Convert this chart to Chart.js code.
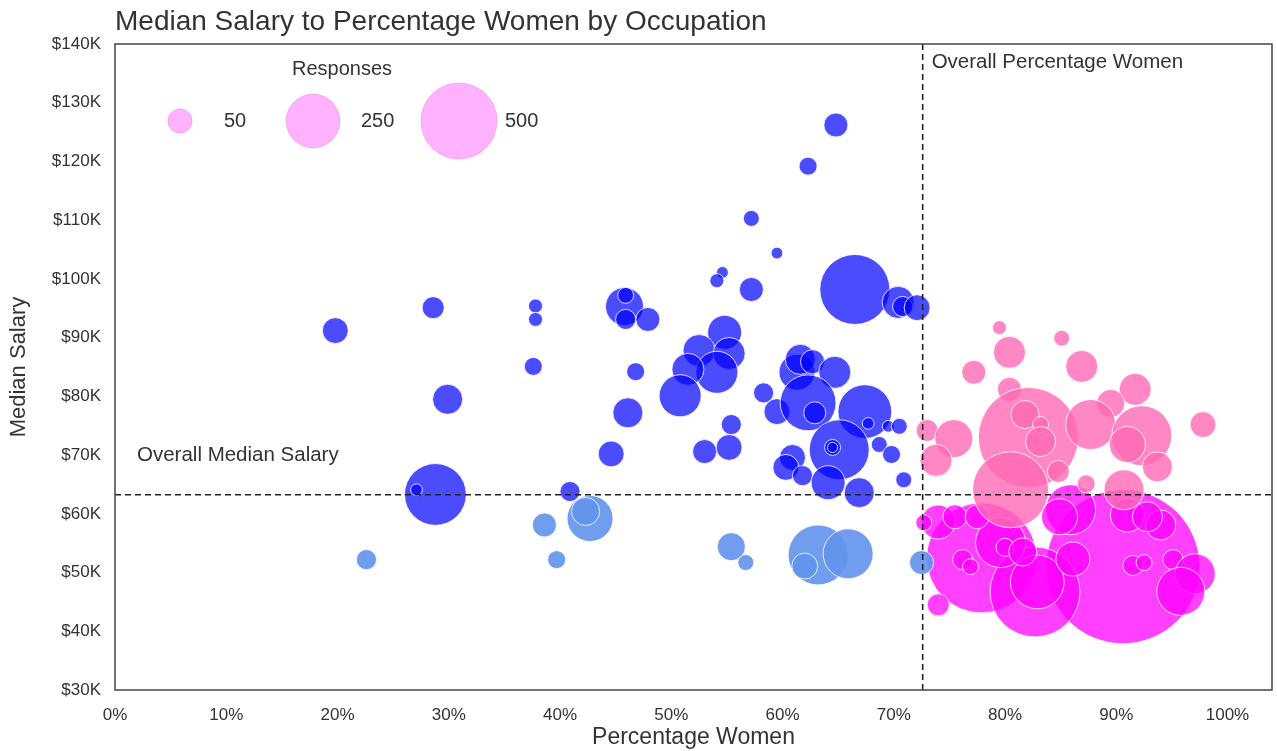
<!DOCTYPE html>
<html>
<head>
<meta charset="utf-8">
<title>Median Salary to Percentage Women by Occupation</title>
<script src="https://cdn.jsdelivr.net/npm/chart.js@4.4.1/dist/chart.umd.min.js"></script>
<style>
    html, body { margin: 0; padding: 0; background: #fff; }
    #chart { display: block; }
</style>
</head>
<body>
<canvas id="chart" width="1277" height="751"></canvas>
<script>
    "use strict";

    // Occupations above the overall median salary, below the overall % women
    var bluePct = [64.8, 62.3, 57.2, 59.5, 54.6, 54.1, 57.2, 66.5, 70.4, 70.8, 72.1, 19.8, 28.6, 29.9, 37.8, 37.8, 37.6,
        45.8, 45.9, 45.9, 47.9, 46.8, 46.1, 44.6, 40.9, 54.8, 52.5, 55.2, 54.1, 51.5, 50.8, 55.4, 55.2, 53.0,
        58.3, 59.5, 61.3, 61.6, 62.7, 64.7, 62.3, 62.9, 67.4, 67.7, 69.5, 70.5, 68.7, 69.8, 70.9, 65.1, 64.5, 64.5,
        60.9, 60.3, 61.8, 64.1, 66.9, 28.8, 27.1];
    var blueSalary = [126.2, 119.2, 110.3, 104.4, 101.1, 99.7, 98.2, 98.2, 96.0, 95.3, 95.1, 91.2, 95.1, 79.5, 95.4, 93.1, 85.1,
        95.3, 97.2, 93.1, 93.1, 84.2, 77.2, 70.2, 63.8, 90.9, 87.8, 87.3, 84.1, 84.6, 80.1, 75.2, 71.3, 70.6,
        80.6, 77.4, 84.1, 86.3, 85.9, 84.1, 78.9, 77.2, 77.4, 75.4, 74.9, 74.9, 71.8, 70.1, 65.8, 70.9, 71.3, 71.3,
        69.6, 67.9, 66.5, 65.3, 63.6, 63.3, 64.1];
    var blueResponses = [50, 28, 22, 12, 12, 17, 50, 424, 89, 35, 58, 58, 42, 78, 17, 17, 28,
        125, 22, 35, 50, 28, 78, 58, 35, 100, 89, 89, 153, 89, 153, 35, 58, 50,
        35, 58, 112, 78, 50, 89, 270, 42, 250, 12, 12, 22, 22, 28, 22, 311, 22, 9,
        58, 58, 35, 100, 78, 330, 12];

    // Below the median salary, below the overall % women
    var lightPct = [22.6, 38.6, 39.7, 42.7, 42.3, 55.4, 56.7, 63.2, 65.9, 62.0, 72.5];
    var lightSalary = [52.2, 58.1, 52.2, 59.2, 60.4, 54.4, 51.7, 53.0, 53.2, 51.1, 51.7];
    var lightResponses = [35, 50, 28, 183, 68, 68, 22, 311, 216, 58, 50];

    // Above the median salary, above the overall % women
    var pinkPct = [79.5, 80.4, 85.1, 86.9, 77.2, 80.4, 91.7, 89.5, 82.1, 81.8, 83.2, 83.2, 87.7, 92.3, 91.0, 93.7,
        97.8, 73.0, 75.4, 73.8, 80.5, 84.8, 87.3, 90.7];
    var pinkSalary = [91.7, 87.5, 89.9, 85.1, 84.1, 81.2, 81.2, 78.8, 73.0, 76.9, 75.2, 72.3, 75.2, 73.3, 71.8, 68.0,
        75.2, 74.2, 72.8, 69.1, 64.1, 67.2, 65.1, 64.1];
    var pinkResponses = [17, 89, 22, 89, 50, 50, 89, 68, 865, 68, 22, 78, 216, 311, 112, 78,
        58, 42, 125, 89, 500, 42, 28, 138];

    // Below the median salary, above the overall % women
    var magentaPct = [90.6, 77.9, 82.7, 82.9, 85.9, 86.1, 91.0, 94.0, 92.8, 95.1, 97.1, 95.8, 91.5, 92.5,
        76.2, 76.9, 74.0, 75.5, 72.7, 74.0, 79.6, 80.0, 81.6, 77.5, 84.9];
    var magentaSalary = [51.0, 52.5, 46.7, 48.4, 60.7, 52.3, 59.8, 58.1, 59.5, 52.2, 49.8, 46.8, 51.2, 51.7,
        52.2, 51.0, 58.6, 59.5, 58.5, 44.5, 55.1, 54.3, 53.5, 59.5, 59.5];
    var magentaResponses = [2050, 1047, 700, 250, 216, 100, 100, 78, 78, 35, 138, 200, 35, 22,
        35, 22, 100, 50, 22, 42, 216, 28, 68, 50, 112];

    var overallPctWomen = 72.6;
    var overallMedianSalary = 63.25;
    var legendSizes = [50, 250, 500];
    var xTicks = [0, 10, 20, 30, 40, 50, 60, 70, 80, 90, 100];
    var yTicks = [30, 40, 50, 60, 70, 80, 90, 100, 110, 120, 130, 140];

    var FONT = "'Liberation Sans', Arial, sans-serif";
    var TEXT = "#333";

    function bubbleRadius(n) {
        return 1.7 * Math.sqrt(n);
    }

    function toPoints(xs, ys) {
        return xs.map(function (x, i) { return { x: x, y: ys[i] * 1000 }; });
    }

    function bubbleSet(label, xs, ys, sizes, color) {
        return {
            label: label,
            data: toPoints(xs, ys),
            backgroundColor: color,
            borderColor: "rgba(255, 255, 255, 0.8)",
            borderWidth: 1,
            radius: function (ctx) { return bubbleRadius(sizes[ctx.dataIndex]); },
            hoverRadius: 0
        };
    }

    // Frame, reference lines, labels and the size legend
    var extras = {
        id: "extras",
        afterDatasetsDraw: function (chart) {
            var ctx = chart.ctx, a = chart.chartArea;
            var xs = chart.scales.x, ys = chart.scales.y;
            var px = xs.getPixelForValue(overallPctWomen);
            var py = ys.getPixelForValue(overallMedianSalary * 1000);

            ctx.save();
            ctx.strokeStyle = "#222";
            ctx.lineWidth = 1.6;
            ctx.setLineDash([6, 4]);
            ctx.beginPath();
            ctx.moveTo(px, a.top);
            ctx.lineTo(px, a.bottom);
            ctx.moveTo(a.left, py);
            ctx.lineTo(a.right, py);
            ctx.stroke();
            ctx.setLineDash([]);

            ctx.strokeStyle = "#444";
            ctx.lineWidth = 1.5;
            ctx.strokeRect(a.left, a.top, a.right - a.left, a.bottom - a.top);

            ctx.fillStyle = TEXT;
            ctx.font = "20.5px " + FONT;
            ctx.textBaseline = "middle";
            ctx.textAlign = "left";
            ctx.fillText("Overall Percentage Women", px + 9, a.top + 18);
            ctx.fillText("Overall Median Salary", a.left + 22, py - 39);

            // legend
            ctx.font = "20px " + FONT;
            ctx.textAlign = "center";
            ctx.fillText("Responses", 342, 69);
            var cx = [180, 313, 459];
            var lx = [224, 361, 505];
            legendSizes.forEach(function (n, i) {
                ctx.beginPath();
                ctx.arc(cx[i], 121, bubbleRadius(n), 0, Math.PI * 2);
                ctx.fillStyle = "rgba(255, 0, 255, 0.3)";
                ctx.fill();
                ctx.strokeStyle = "rgba(240, 120, 240, 0.5)";
                ctx.lineWidth = 1;
                ctx.stroke();
                ctx.fillStyle = TEXT;
                ctx.textAlign = "left";
                ctx.fillText(String(n), lx[i], 121);
            });

            // title
            ctx.font = "28px " + FONT;
            ctx.textAlign = "left";
            ctx.fillText("Median Salary to Percentage Women by Occupation", a.left, 22);
            ctx.restore();
        }
    };

    new Chart(document.getElementById("chart"), {
        type: "bubble",
        data: {
            datasets: [
                bubbleSet("Higher salary, more women", pinkPct, pinkSalary, pinkResponses, "rgba(255, 105, 180, 0.8)"),
                bubbleSet("Higher salary, fewer women", bluePct, blueSalary, blueResponses, "rgba(0, 0, 255, 0.7)"),
                bubbleSet("Lower salary, fewer women", lightPct, lightSalary, lightResponses, "rgba(100, 149, 237, 0.92)"),
                bubbleSet("Lower salary, more women", magentaPct, magentaSalary, magentaResponses, "rgba(255, 0, 255, 0.75)")
            ]
        },
        options: {
            responsive: false,
            animation: false,
            layout: { autoPadding: false, padding: { top: 44, right: 5, left: 0, bottom: 0 } },
            plugins: {
                legend: { display: false },
                tooltip: { enabled: false },
                title: { display: false }
            },
            scales: {
                x: {
                    type: "linear",
                    min: 0,
                    max: 104,
                    afterFit: function (s) { s.height = 61; },
                    afterBuildTicks: function (s) { s.ticks = xTicks.map(function (v) { return { value: v }; }); },
                    grid: { display: false, drawTicks: false },
                    border: { display: false },
                    ticks: {
                        padding: 15,
                        color: TEXT,
                        font: { family: FONT, size: 17 },
                        callback: function (v) { return v + "%"; }
                    },
                    title: {
                        display: true,
                        text: "Percentage Women",
                        color: TEXT,
                        font: { family: FONT, size: 23 },
                        padding: { top: 0, bottom: 0 }
                    }
                },
                y: {
                    type: "linear",
                    min: 30000,
                    max: 140000,
                    afterFit: function (s) { s.width = 115; },
                    afterBuildTicks: function (s) { s.ticks = yTicks.map(function (v) { return { value: v * 1000 }; }); },
                    grid: { display: false, drawTicks: false },
                    border: { display: false },
                    ticks: {
                        padding: 14,
                        color: TEXT,
                        font: { family: FONT, size: 17 },
                        callback: function (v) { return "$" + Math.round(v / 1000) + "K"; }
                    },
                    title: {
                        display: true,
                        text: "Median Salary",
                        color: TEXT,
                        font: { family: FONT, size: 22 },
                        padding: { top: 6, bottom: 0 }
                    }
                }
            }
        },
        plugins: [extras]
    });
</script>
</body>
</html>
